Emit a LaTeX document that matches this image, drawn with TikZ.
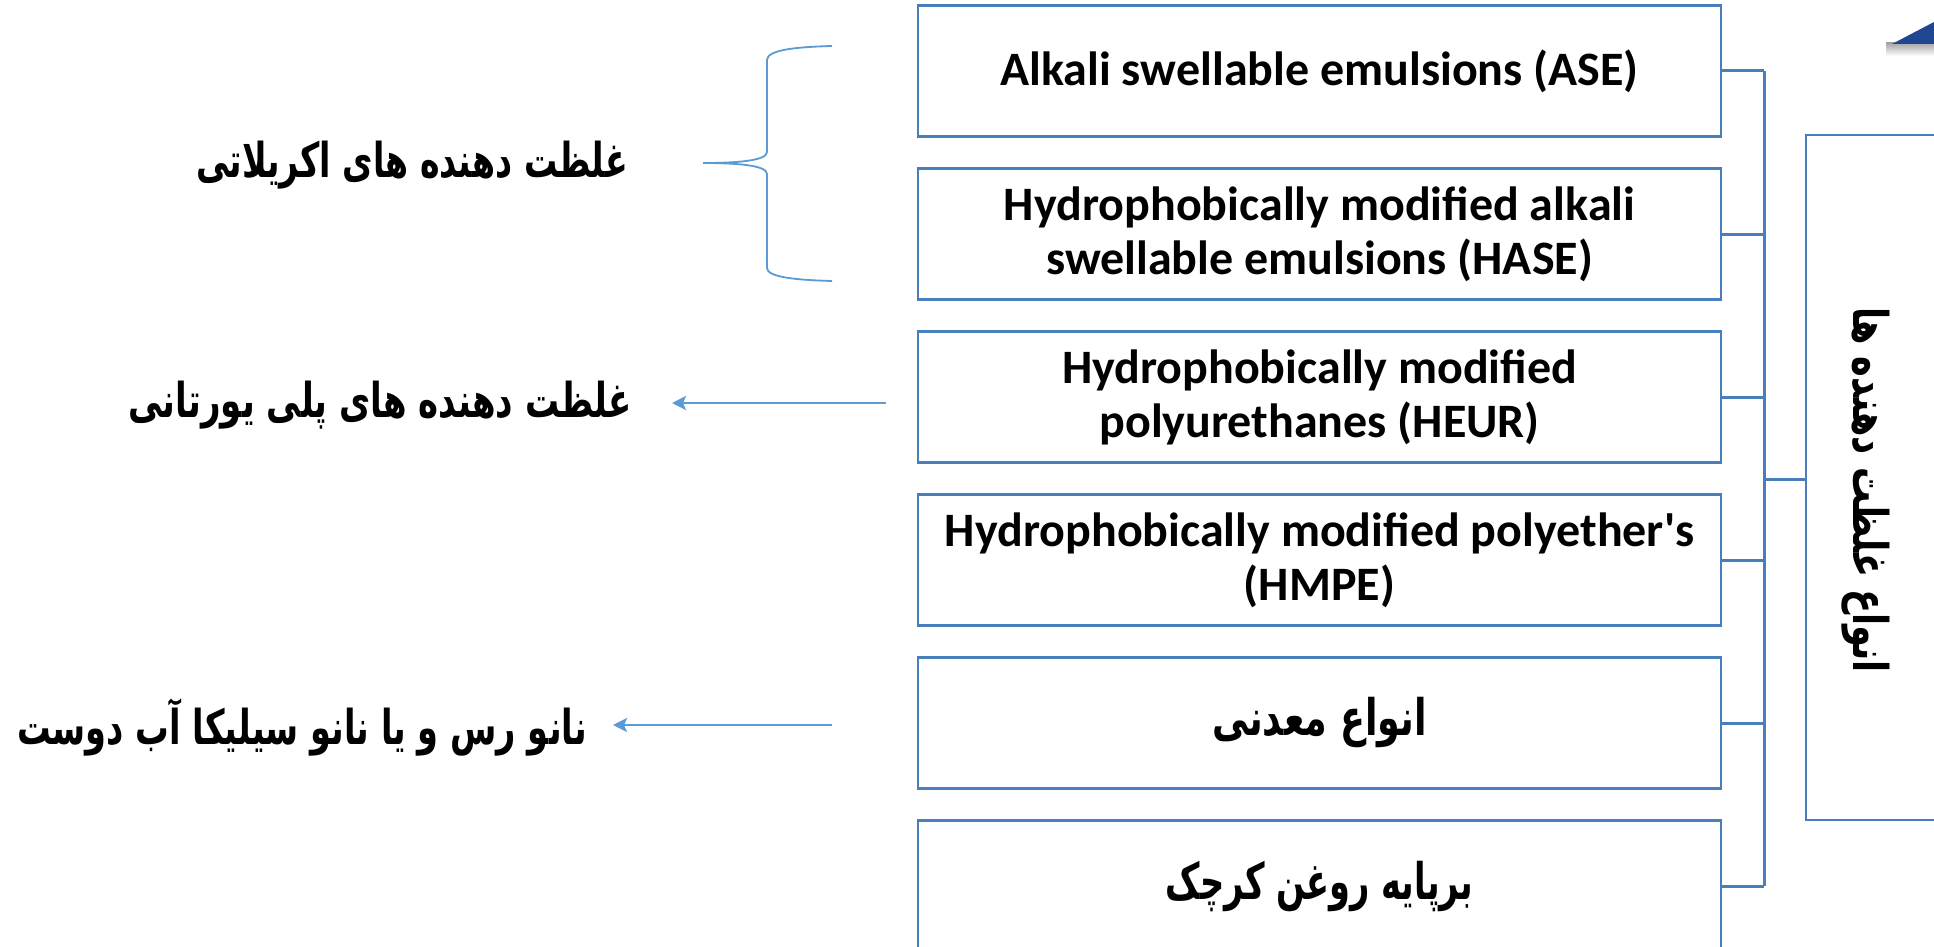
\documentclass[tikz,border=0pt]{standalone}
\usepackage{fontspec}
\usepackage{graphicx}
\setmainfont{Carlito}[Ligatures=TeXOff]
\newfontfamily\fa[Script=Arabic]{DejaVu Sans}
\TeXXeTstate=1
\usetikzlibrary{arrows.meta}
\definecolor{boxblue}{HTML}{4A7EBB}
\definecolor{lineblue}{HTML}{5B9BD5}
\definecolor{tri}{HTML}{1F4690}
\newcommand{\pers}[2]{\scalebox{#1}[1.2]{\fa\bfseries #2}}
\tikzset{
 item/.style={draw=boxblue, line width=1.4pt, minimum width=401.5pt, minimum height=65.5pt, align=center, font=\fontsize{24}{27}\selectfont\bfseries, inner sep=0pt},
 bigbox/.style={draw=boxblue, line width=1.4pt, minimum width=100pt, minimum height=342.5pt, inner sep=0pt},
 link/.style={draw=boxblue, line width=1.5pt},
 fatext/.style={font=\fontsize{20}{23}\selectfont, inner sep=0pt},
 pointer/.style={draw=lineblue, line width=1.3pt, -{Stealth[length=7pt,width=7pt,inset=1.5pt]}},
 bracestyle/.style={draw=lineblue, line width=0.9pt}
}
\begin{document}
\begin{tikzpicture}[x=0.5pt,y=-0.5pt]
\useasboundingbox (0,0) rectangle (1934,947);
\fill[white] (0,0) rectangle (1934,947);
\clip (0,0) rectangle (1934,947);

% decoration at the top right
\shade[top color=black!35, bottom color=white] (1886,43) -- (1934,43) -- (1934,56) -- (1886,56) -- cycle;
\fill[tri] (1892,44) -- (1934,22) -- (1934,44) -- cycle;

% boxes
\node[item] (ase) at (1319.5,71) {Alkali swellable emulsions (ASE)};
\node[item] (hase) at (1319.5,234) {Hydrophobically modified alkali\\swellable emulsions (HASE)};
\node[item] (heur) at (1319.5,397) {Hydrophobically modified\\polyurethanes (HEUR)};
\node[item] (hmpe) at (1319.5,560) {Hydrophobically modified polyether's\\(HMPE)};
\node[item, font=\fontsize{21}{24}\selectfont] (min) at (1319.5,723) {\pers{0.87}{\beginR انواع معدنی\endR}};
\node[item, font=\fontsize{21}{24}\selectfont] (castor) at (1319.5,886) {\pers{0.8}{\beginR برپایه روغن کرچک\endR}};

% main box
\node[bigbox] (big) at (1906,477.5) {};
\node[fatext, rotate=-90] (bigt) at (1866,490) {\pers{0.88}{\beginR انواع غلظت دهنده ها\endR}};

% connectors
\coordinate (bus) at (1764,479);
\foreach \n in {ase,hase,heur,hmpe,min,castor}
  \draw[link] (\n.east) -- (\n.east -| bus);
\draw[link] (bus |- ase.east) -- (bus |- castor.east);
\draw[link] (bus) -- (bus -| big.west);

% left labels
\node[fatext] (t1) at (412,165) {\pers{0.83}{\beginR غلظت دهنده های اکریلاتی\endR}};
\node[fatext] (t2) at (380,405) {\pers{0.85}{\beginR غلظت دهنده های پلی یورتانی\endR}};
\node[fatext] (t3) at (302,727) {\pers{0.84}{\beginR نانو رس و یا نانو سیلیکا آب دوست\endR}};

% brace
\draw[bracestyle] (832,46) .. controls (795,47) and (767,50) .. (767,60)
  -- (767,152) .. controls (767,161) and (735,163) .. (703,163)
  .. controls (735,163) and (767,165) .. (767,174)
  -- (767,268) .. controls (767,277) and (795,280) .. (832,281);

% arrows
\coordinate (p2s) at (886,403);
\coordinate (p2e) at (672,403);
\draw[pointer] (p2s) -- (p2e);
\coordinate (p3s) at (832,725);
\coordinate (p3e) at (613,725);
\draw[pointer] (p3s) -- (p3e);
\end{tikzpicture}
\end{document}
